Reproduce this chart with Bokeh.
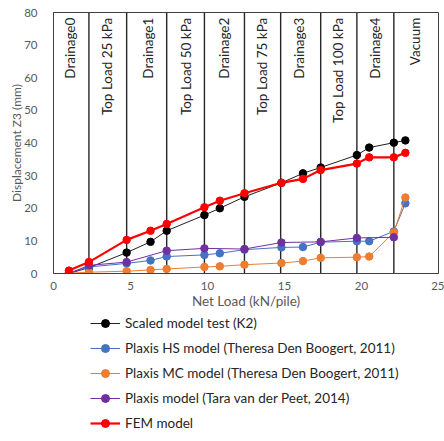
import math
from bokeh.plotting import figure
from bokeh.layouts import column
from bokeh.models import Legend, LegendItem, ColumnDataSource, Range1d
from bokeh.core.properties import value
from bokeh.embed import file_html
from bokeh.resources import INLINE

# Net load steps (kN/pile) and displacement Z3 (mm) per series
x_full = [1.0, 2.3, 4.75, 6.3, 7.35, 9.8, 10.8, 12.4, 14.8, 16.2, 17.35, 19.7, 20.5, 22.1, 22.85]
scaled_k2 = [0.0, 1.8, 6.4, 9.7, 13.1, 17.9, 20.0, 23.5, 27.8, 30.7, 32.5, 36.3, 38.6, 40.1, 40.8]
plaxis_hs = [0.2, 2.0, 3.1, 4.0, 5.2, 5.7, 6.2, 7.3, 8.0, 8.1, 9.6, 9.9, 9.9, 12.9, 21.5]
plaxis_mc = [0.1, 0.4, 0.7, 1.1, 1.4, 2.0, 2.2, 2.7, 3.2, 3.8, 4.8, 5.0, 5.2, 12.6, 23.3]
fem_model = [0.9, 3.5, 10.3, 13.1, 15.2, 20.3, 22.3, 24.6, 27.8, 29.0, 31.7, 33.7, 35.6, 35.6, 37.0]

x_peet = [1.0, 2.3, 4.75, 7.35, 9.8, 12.4, 14.8, 17.35, 19.7, 22.1]
plaxis_peet = [0.0, 2.5, 3.5, 7.0, 7.7, 7.5, 9.5, 9.7, 10.9, 11.1]

# Loading stages: boundaries and their labels
stage_bounds = [2.3, 4.75, 7.35, 9.8, 12.4, 14.75, 17.35, 19.7, 22.1]
stage_names = ["Drainage0", "Top Load 25 kPa", "Drainage1", "Top Load 50 kPa", "Drainage2",
               "Top Load 75 kPa", "Drainage3", "Top Load 100 kPa", "Drainage4", "Vacuum"]
stage_label_x = [1.05, 3.5, 6.15, 8.6, 11.1, 13.55, 15.95, 18.45, 20.85, 23.45]

x_ticks = [0, 5, 10, 15, 20, 25]
y_ticks = [0, 10, 20, 30, 40, 50, 60, 70, 80]

FONT = "Lato"
GRAY = "#595959"

p = figure(width=444, height=311,
           x_range=(0, 25), y_range=(0, 80),
           output_backend="svg", toolbar_location=None,
           min_border_left=53, min_border_right=6, min_border_top=12, min_border_bottom=0)
p.grid.visible = False
p.outline_line_color = "#404040"
p.outline_line_width = 1
p.background_fill_color = "white"
p.border_fill_color = "white"

for ax in (p.xaxis[0], p.yaxis[0]):
    ax.major_tick_line_color = None
    ax.minor_tick_line_color = None
    ax.axis_line_color = "#404040"
    ax.major_label_text_color = GRAY
    ax.major_label_text_font = FONT
    ax.major_label_text_font_size = "11.5px"
    ax.axis_label_text_color = GRAY
    ax.axis_label_text_font = FONT
    ax.axis_label_text_font_style = "normal"

p.xaxis.axis_label_text_font_size = "13.5px"
p.yaxis.axis_label_text_font_size = "12px"
p.xaxis.ticker = x_ticks
p.yaxis.ticker = y_ticks
p.xaxis.axis_label = "Net Load (kN/pile)"
p.yaxis.axis_label = "Displacement Z3 (mm)"
p.xaxis.major_label_standoff = 2
p.xaxis.axis_label_standoff = 0
p.yaxis.major_label_standoff = 10
p.yaxis.axis_label_standoff = -3

# stage boundaries
p.segment(x0=stage_bounds, y0=[0] * len(stage_bounds), x1=stage_bounds, y1=[80] * len(stage_bounds),
          line_color="#262626", line_width=1.4)

stage_src = ColumnDataSource(dict(x=stage_label_x, y=[78.4] * len(stage_label_x), t=stage_names))
p.text(x="x", y="y", text="t", source=stage_src, angle=math.pi / 2,
       text_align="right", text_baseline="middle", text_color="#262626",
       text_font=value(FONT), text_font_size="13.5px")

series = [
    ("Scaled model test (K2)", x_full, scaled_k2, "#000000", "#202020", 1.0),
    ("Plaxis HS model (Theresa Den Boogert, 2011)", x_full, plaxis_hs, "#4472C4", "#4A6FC0", 1.0),
    ("Plaxis MC model (Theresa Den Boogert, 2011)", x_full, plaxis_mc, "#ED7D31", "#ED7D31", 1.0),
    ("Plaxis model (Tara van der Peet, 2014)", x_peet, plaxis_peet, "#7030A0", "#7030A0", 1.0),
    ("FEM model", x_full, fem_model, "#FF0000", "#FF0000", 2.2),
]

for name, xs, ys, mcol, lcol, lw in series:
    p.line(xs, ys, line_color=lcol, line_width=lw)
    p.scatter(xs, ys, size=7.5, fill_color=mcol, line_color=mcol)

# Legend panel underneath: same series styles, ranges kept away from the data
leg_fig = figure(width=444, height=130, x_range=Range1d(-100, -99), y_range=Range1d(-100, -99),
                 x_axis_location=None, y_axis_location=None,
                 output_backend="svg", toolbar_location=None,
                 min_border_left=0, min_border_right=0, min_border_top=0, min_border_bottom=0)
leg_fig.grid.visible = False
leg_fig.outline_line_color = None

items = []
for name, xs, ys, mcol, lcol, lw in series:
    r_line = leg_fig.line(xs, ys, line_color=lcol, line_width=lw)
    r_pts = leg_fig.scatter(xs, ys, size=7.5, fill_color=mcol, line_color=mcol)
    items.append(LegendItem(label=name, renderers=[r_line, r_pts]))

legend = Legend(items=items, orientation="vertical", location=(37, 8),
                border_line_color=None, background_fill_alpha=0,
                glyph_width=30, glyph_height=20, label_height=20,
                spacing=5, padding=1, margin=0, label_standoff=5,
                label_text_font=FONT, label_text_font_size="13.5px",
                label_text_color="#262626")
leg_fig.add_layout(legend, "center")

layout = column(p, leg_fig, spacing=0)
open("out.html", "w").write(file_html(layout, INLINE))
